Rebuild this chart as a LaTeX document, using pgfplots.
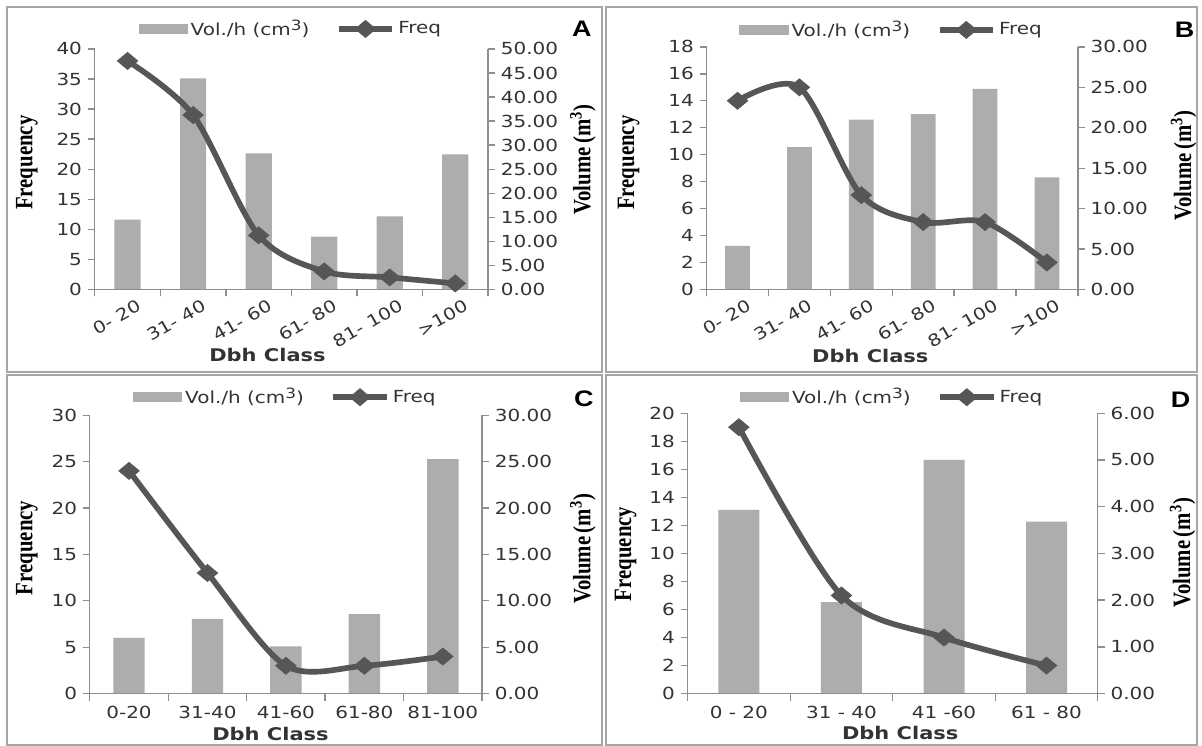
\documentclass[border=0pt]{standalone}
\usepackage{fontspec}
\setmainfont{DejaVu Sans}
\newfontfamily\tnr{Liberation Serif}
\newfontfamily\arl{Liberation Sans}
\usepackage{pgfplots}
\pgfplotsset{compat=1.18}
\definecolor{barc}{HTML}{ADADAD}
\definecolor{linec}{HTML}{565656}
\definecolor{axisc}{HTML}{8E8E8E}
\definecolor{labc}{HTML}{333333}
\definecolor{framec}{HTML}{A6A6A6}
% the source figure is stretched sideways, so text is too
\newcommand\sx[1]{\scalebox{1.2}[1]{#1}}
\newcommand\tickfont{\fontsize{10}{12}\selectfont}
\newcommand\volleg{\sx{Vol./h (cm\raisebox{0.55ex}{\fontsize{8.5}{9}\selectfont 3})}}

\pgfplotsset{
  base/.style={scale only axis, clip=false, enlargelimits=false, ymin=0,
    axis line style={draw=axisc, line width=0.8pt},
    tick style={draw=axisc, line width=0.8pt},
    tick align=outside, major tick length=4.2pt,
    ticklabel style={font=\tickfont, text=labc},
    /pgf/number format/assume math mode=true},
  freq/.style={base, axis y line*=left, axis x line*=bottom,
    x tick label as interval,
    yticklabel={\sx{\pgfmathprintnumber{\tick}}},
    legend style={draw=none, fill=none, legend columns=-1, at={(0.5,1)},
      anchor=center, font=\tickfont, text=labc,
      /tikz/every even column/.append style={column sep=14pt}}},
  slanted/.style={xticklabel style={xshift=10pt, yshift=-3pt, rotate=30, anchor=east}},
  vol/.style={base, axis y line*=right, axis x line=none, xtick=\empty,
    yticklabel={\sx{\pgfmathprintnumber[fixed,fixed zerofill,precision=2]{\tick}}}},
  volbar/.style={ybar, bar width=0.4, fill=barc, draw=none},
  freqline/.style={smooth, color=linec, line width=3.4pt, mark=square*,
    mark size=3.6pt,
    mark options={solid, xscale=1.2, rotate=45, line width=0.5pt, fill=linec},
    legend image code/.code={\draw[mark repeat=2,mark phase=2,##1]
      plot coordinates {(0pt,0pt) (16pt,0pt) (32pt,0pt)};}},
  barkey/.style={legend image code/.code={\fill[barc] (0pt,-2.7pt) rectangle (29pt,2.7pt);}},
}

\begin{document}
\begin{tikzpicture}
\begin{scope}[x=0.6pt,y=0.6pt]
\path[use as bounding box] (0,0) rectangle (1202,747);
\fill[white] (0,0) rectangle (1202,747);
\draw[framec, line width=1.2pt] (7,740) rectangle (603,374);
\draw[framec, line width=1.2pt] (607,740) rectangle (1199,374);
\draw[framec, line width=1.2pt] (7,371) rectangle (603,1);
\draw[framec, line width=1.2pt] (607,371) rectangle (1199,1);
\end{scope}

% ---------- A ----------
\begin{axis}[vol, at={(57pt,274.2pt)}, anchor=south west, width=236.4pt, height=144.6pt,
  xmin=-0.5, xmax=5.5, ymax=50, ytick distance=5]
\addplot[volbar] coordinates {(0,14.5) (1,43.9) (2,28.3) (3,11.0) (4,15.2) (5,28.1)};
\end{axis}
\begin{axis}[freq, slanted, at={(57pt,274.2pt)}, anchor=south west, width=236.4pt, height=144.6pt,
  xmin=-0.5, xmax=5.5, ymax=40, ytick distance=5,
  xtick={-0.5,0.5,...,5.5},
  xticklabels={\sx{0- 20},\sx{31- 40},\sx{41- 60},\sx{61- 80},\sx{81- 100},\sx{>100}},
  legend style={yshift=12pt}]
\addlegendimage{barkey}
\addlegendentry{\volleg}
\addplot[freqline] coordinates {(0,38) (1,29) (2,9) (3,3) (4,2) (5,1)};
\addlegendentry{\sx{Freq}}
\end{axis}

% ---------- B ----------
\begin{axis}[vol, at={(424.8pt,274.2pt)}, anchor=south west, width=223.2pt, height=145.8pt,
  xmin=-0.5, xmax=5.5, ymax=30, ytick distance=5]
\addplot[volbar] coordinates {(0,5.4) (1,17.6) (2,21.0) (3,21.7) (4,24.8) (5,13.85)};
\end{axis}
\begin{axis}[freq, slanted, at={(424.8pt,274.2pt)}, anchor=south west, width=223.2pt, height=145.8pt,
  xmin=-0.5, xmax=5.5, ymax=18, ytick distance=2,
  xtick={-0.5,0.5,...,5.5},
  xticklabels={\sx{0- 20},\sx{31- 40},\sx{41- 60},\sx{61- 80},\sx{81- 100},\sx{>100}},
  legend style={yshift=10.2pt}]
\addlegendimage{barkey}
\addlegendentry{\volleg}
\addplot[freqline] coordinates {(0,14) (1,15) (2,7) (3,5) (4,5) (5,2)};
\addlegendentry{\sx{Freq}}
\end{axis}

% ---------- C ----------
\begin{axis}[vol, at={(54pt,31.2pt)}, anchor=south west, width=235.8pt, height=167.4pt,
  xmin=-0.5, xmax=4.5, ymax=30, ytick distance=5]
\addplot[volbar] coordinates {(0,6.02) (1,8.06) (2,5.09) (3,8.56) (4,25.27)};
\end{axis}
\begin{axis}[freq, at={(54pt,31.2pt)}, anchor=south west, width=235.8pt, height=167.4pt,
  xmin=-0.5, xmax=4.5, ymax=30, ytick distance=5,
  xtick={-0.5,0.5,...,4.5},
  xticklabels={\sx{0-20},\sx{31-40},\sx{41-60},\sx{61-80},\sx{81-100}},
  legend style={yshift=10.8pt}]
\addlegendimage{barkey}
\addlegendentry{\volleg}
\addplot[freqline] coordinates {(0,24) (1,13) (2,3) (3,3) (4,4)};
\addlegendentry{\sx{Freq}}
\end{axis}

% ---------- D ----------
\begin{axis}[vol, at={(413.4pt,31.2pt)}, anchor=south west, width=246.6pt, height=168.6pt,
  xmin=-0.5, xmax=3.5, ymax=6, ytick distance=1]
\addplot[volbar] coordinates {(0,3.93) (1,1.96) (2,5.0) (3,3.68)};
\end{axis}
\begin{axis}[freq, at={(413.4pt,31.2pt)}, anchor=south west, width=246.6pt, height=168.6pt,
  xmin=-0.5, xmax=3.5, ymax=20, ytick distance=2,
  xtick={-0.5,0.5,...,3.5},
  xticklabels={\sx{0 - 20},\sx{31 - 40},\sx{41 -60},\sx{61 - 80}},
  legend style={yshift=9.6pt}]
\addlegendimage{barkey}
\addlegendentry{\volleg}
\addplot[freqline] coordinates {(0,19) (1,7) (2,4) (3,2)};
\addlegendentry{\sx{Freq}}
\end{axis}

\begin{scope}[x=0.6pt,y=0.6pt]
\tikzset{ftitle/.style={rotate=90, font={\tnr\bfseries\fontsize{12.5}{14}\selectfont}},
  dbh/.style={text=labc, font={\bfseries\fontsize{10.5}{12}\selectfont}},
  letter/.style={font={\arl\bfseries\fontsize{13.5}{15}\selectfont}}}
\node[ftitle] at (27,584) {\scalebox{1}[1.2]{Frequency}};
\node[ftitle] at (584,587) {\scalebox{1}[1.2]{Volume\,(m\textsuperscript{3})}};
\node[letter] at (583,718) {\sx{A}};
\node[dbh] at (268,391) {\sx{Dbh Class}};

\node[ftitle] at (630,584) {\scalebox{1}[1.2]{Frequency}};
\node[ftitle] at (1186,581) {\scalebox{1}[1.2]{Volume\,(m\textsuperscript{3})}};
\node[letter] at (1187,717) {\sx{B}};
\node[dbh] at (872,390) {\sx{Dbh Class}};

\node[ftitle] at (27,198) {\scalebox{1}[1.2]{Frequency}};
\node[ftitle] at (584,197) {\scalebox{1}[1.2]{Volume\,(m\textsuperscript{3})}};
\node[letter] at (585,347) {\sx{C}};
\node[dbh] at (271,12) {\sx{Dbh Class}};

\node[ftitle] at (627,192) {\scalebox{1}[1.2]{Frequency}};
\node[ftitle] at (1185,193) {\scalebox{1}[1.2]{Volume\,(m\textsuperscript{3})}};
\node[letter] at (1183,346) {\sx{D}};
\node[dbh] at (902,13) {\sx{Dbh Class}};
\end{scope}
\end{tikzpicture}
\end{document}
